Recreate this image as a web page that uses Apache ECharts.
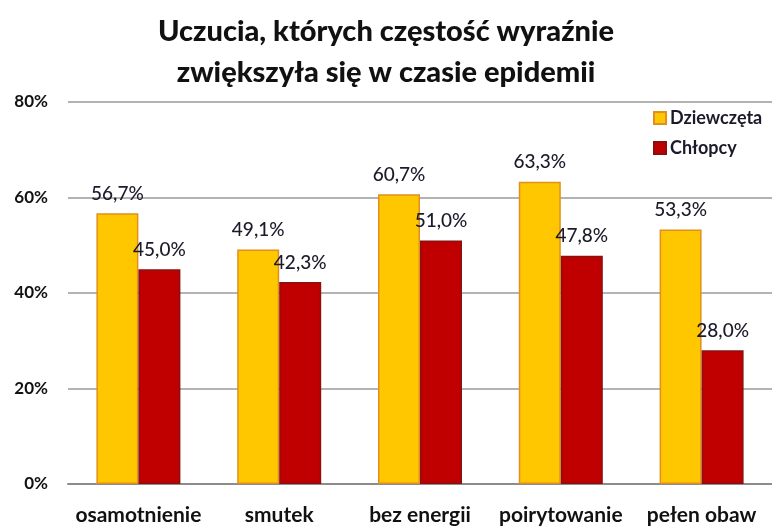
<!DOCTYPE html>
<html>
<head>
<meta charset="utf-8">
<script src="https://cdn.jsdelivr.net/npm/echarts@6/dist/echarts.min.js"></script>
<style>html,body{margin:0;padding:0;background:#fff}#c{width:772px;height:526px}</style>
</head>
<body>
<div id="c"></div>
<script>
var categories = ['osamotnienie', 'smutek', 'bez energii', 'poirytowanie', 'pełen obaw'];
var girls = [56.7, 49.1, 60.7, 63.3, 53.3];
var boys = [45.0, 42.3, 51.0, 47.8, 28.0];
var seriesNames = ['Dziewczęta', 'Chłopcy'];
var titleText = 'Uczucia, których częstość wyraźnie\nzwiększyła się w czasie epidemii';

var FONT = 'Lato, "Open Sans", sans-serif';
var chart = echarts.init(document.getElementById('c'));
function fmt(p) { return p.value.toFixed(1).replace('.', ',') + '%'; }
var labelStyle = { show: true, position: 'top', distance: 10, fontFamily: FONT, fontSize: 19, fontWeight: 500, color: '#1a1a2a', formatter: fmt };
chart.setOption({
  animation: false,
  title: {
    text: titleText, left: 'center', top: 6,
    textStyle: { fontFamily: FONT, fontWeight: 900, fontSize: 29, lineHeight: 41, color: '#111' }
  },
  legend: {
    data: seriesNames, orient: 'vertical', left: 648, top: 104, itemGap: 12,
    itemWidth: 12, itemHeight: 12, icon: 'rect',
    textStyle: { fontFamily: FONT, fontWeight: 'bold', fontSize: 18, color: '#1a1a2a', padding: [0, 0, 0, -1] }
  },
  grid: { left: 68, right: -6, top: 102, bottom: 40, containLabel: false },
  xAxis: {
    type: 'category', data: categories,
    axisLine: { lineStyle: { color: '#8c8c8c', width: 2 } },
    axisTick: { show: false },
    axisLabel: { margin: 21, fontFamily: FONT, fontWeight: 'bold', fontSize: 21, color: '#111', interval: 0 }
  },
  yAxis: {
    type: 'value', min: 0, max: 80, interval: 20,
    axisLabel: { formatter: '{value}%', margin: 20, fontFamily: FONT, fontWeight: 'bold', fontSize: 17, color: '#111' },
    splitLine: { lineStyle: { color: '#9a9a9a', width: 1.5 } },
    axisLine: { show: false }, axisTick: { show: false }
  },
  series: [
    { name: seriesNames[0], type: 'bar', data: girls, barWidth: 42, barGap: '0%',
      itemStyle: { color: '#FFC700', borderColor: '#E0901E', borderWidth: 1.5 }, label: labelStyle },
    { name: seriesNames[1], type: 'bar', data: boys, barWidth: 42,
      itemStyle: { color: '#C00000', borderColor: '#8A1010', borderWidth: 1.5 }, label: labelStyle }
  ]
});
</script>
</body>
</html>
